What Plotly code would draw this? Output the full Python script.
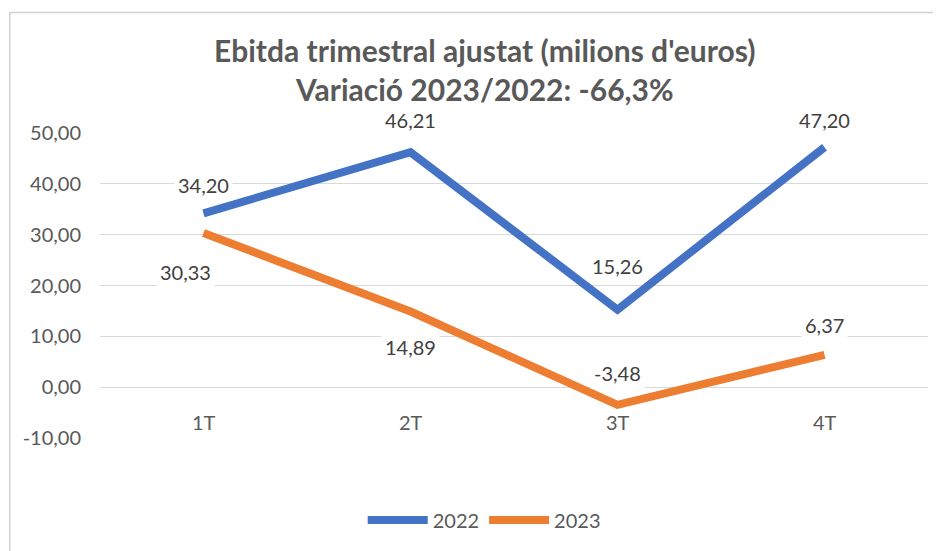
import plotly.graph_objects as go

categories = ["1T", "2T", "3T", "4T"]
values_2022 = [34.20, 46.21, 15.26, 47.20]
values_2023 = [30.33, 14.89, -3.48, 6.37]
series_names = ["2022", "2023"]
tick_values = [-10, 0, 10, 20, 30, 40, 50]
title_lines = ["Ebitda trimestral ajustat (milions d'euros)", "Variació 2023/2022: -66,3%"]

def fmt(v):
    return f"{v:.2f}".replace(".", ",")

tick_text = [fmt(v) for v in tick_values]

BLUE = "#4472C4"
ORANGE = "#ED7D31"
GRAY = "#595959"
FONT = "Lato"

# label offsets in pixels (style only)
label_shift_2022 = [(0, 28), (0, 32), (0, 44), (0, 27)]
label_shift_2023 = [(-18, -39), (0, -36), (0, 32), (0, 30)]

fig = go.Figure()
fig.add_trace(go.Scatter(x=categories, y=values_2022, mode="lines", name=series_names[0],
                         line=dict(color=BLUE, width=8)))
fig.add_trace(go.Scatter(x=categories, y=values_2023, mode="lines", name=series_names[1],
                         line=dict(color=ORANGE, width=8)))

annotations = []
for vals, shifts in ((values_2022, label_shift_2022), (values_2023, label_shift_2023)):
    for c, v, (dx, dy) in zip(categories, vals, shifts):
        annotations.append(dict(
            x=c, y=v, xref="x", yref="y", text=fmt(v), showarrow=False,
            xshift=dx, yshift=dy,
            font=dict(family=FONT, size=20, color="#404040"),
            bgcolor="white", borderpad=3,
        ))
for c in categories:
    annotations.append(dict(
        x=c, y=0, xref="x", yref="y", text=c, showarrow=False,
        yanchor="top", yshift=-21,
        font=dict(family=FONT, size=20, color=GRAY),
    ))
annotations.append(dict(
    x=0.464, y=1.2066, xref="paper", yref="paper", yanchor="middle", xanchor="center",
    text="<b>" + title_lines[0] + "<br>" + title_lines[1] + "</b>",
    showarrow=False, align="center",
    font=dict(family=FONT, size=30, color=GRAY),
))

fig.update_layout(
    width=933, height=543,
    margin=dict(l=92, r=13, t=125, b=113, autoexpand=False),
    paper_bgcolor="white", plot_bgcolor="white",
    separators=",.",
    showlegend=True,
    legend=dict(orientation="h", x=0.464, xanchor="center", y=-0.269, yanchor="middle",
                font=dict(family=FONT, size=20, color=GRAY), itemwidth=60,
                traceorder="normal"),
    annotations=annotations,
    shapes=[
        dict(type="line", xref="paper", yref="paper", x0=-0.109, x1=1.02, y0=1.395, y1=1.395,
             line=dict(color="#D0D0D0", width=1.5)),
        dict(type="line", xref="paper", yref="paper", x0=-0.109, x1=-0.109, y0=1.395, y1=-0.4,
             line=dict(color="#D0D0D0", width=1.5)),
    ],
)
fig.update_xaxes(range=[-0.5, 3.5], showticklabels=False, showgrid=False, zeroline=False,
                 showline=False, fixedrange=True)
fig.update_yaxes(range=[-10, 50], tickvals=tick_values, ticktext=tick_text,
                 showgrid=True, gridcolor="#D9D9D9", gridwidth=1.3, zeroline=False,
                 showline=False, ticklabelstandoff=18,
                 tickfont=dict(family=FONT, size=20, color=GRAY))

fig.write_html("out.html")
